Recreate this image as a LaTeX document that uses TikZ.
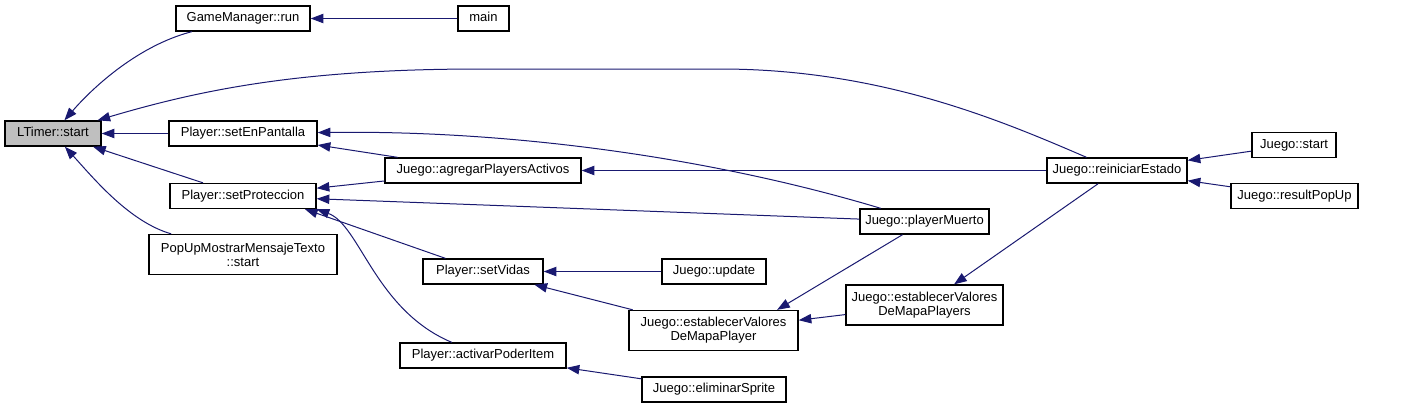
\documentclass[tikz,border=0pt]{standalone}
\usepackage{fontspec}
\setmainfont{Liberation Sans}
\usepackage{xcolor}
\usetikzlibrary{arrows.meta}
\definecolor{edgeblue}{RGB}{25,25,112}
\definecolor{rootgray}{RGB}{191,191,191}

\begin{document}
\begin{tikzpicture}[
			x=0.75pt, y=-0.75pt,
			>={Triangle[length=9.5pt,width=7pt]},
			box/.style={draw, line width=1pt, inner sep=0pt, align=center, font=\fontsize{9.75}{10.5}\selectfont},
			func/.style={box, minimum height=18.75pt, text height=7pt, text depth=2pt},
			twoline/.style={box, minimum height=30pt},
			call/.style={->, edgeblue, line width=0.75pt}
			]
			\useasboundingbox (0,0) rectangle (1405,408);
			
			\node[func, fill=rootgray, minimum width=72pt] (ltimer) at (53,133.5) {LTimer::start};
			\node[func, minimum width=100.5pt] (run) at (243,18.5) {GameManager::run};
			\node[func, minimum width=38.25pt] (main) at (483.5,18.5) {main};
			\node[func, minimum width=111pt] (enpant) at (243,133.5) {Player::setEnPantalla};
			\node[func, minimum width=109.5pt] (prot) at (243,196) {Player::setProteccion};
			\node[twoline, minimum width=141pt] (popup) at (243,254.5) {PopUpMostrarMensajeTexto\\::start};
			\node[func, minimum width=147pt] (agregar) at (483,170.5) {Juego::agregarPlayersActivos};
			\node[func, minimum width=90pt] (vidas) at (483,271.5) {Player::setVidas};
			\node[func, minimum width=124.5pt] (poder) at (483,355.5) {Player::activarPoderItem};
			\node[func, minimum width=78pt] (update) at (714,271.5) {Juego::update};
			\node[twoline, minimum width=126.75pt] (estab) at (713.5,330.5) {Juego::establecerValores\\DeMapaPlayer};
			\node[func, minimum width=108pt] (elim) at (714,389.5) {Juego::eliminarSprite};
			\node[func, minimum width=96.75pt] (muerto) at (924.5,221.5) {Juego::playerMuerto};
			\node[twoline, minimum width=117.75pt] (estabs) at (924.5,305) {Juego::establecerValores\\DeMapaPlayers};
			\node[func, minimum width=105pt] (reinic) at (1117,170.5) {Juego::reiniciarEstado};
			\node[func, minimum width=63pt] (jstart) at (1294,145) {Juego::start};
			\node[func, minimum width=95.25pt] (result) at (1294.5,196) {Juego::resultPopUp};
			
			% callers of LTimer::start
			\path[call] (main) edge (run);
			\draw[call] (run) .. controls (140,45) and (95,85) .. (ltimer);
			\draw[call] (reinic) .. controls (1000,120) and (880,69) .. (720,69) -- (480,69) .. controls (300,69) and (200,90) .. (ltimer);
			\path[call] (enpant) edge (ltimer);
			\path[call] (prot) edge (ltimer);
			\draw[call] (popup) .. controls (130,222) and (95,180) .. (ltimer);
			
			% second level
			\path[call] (agregar) edge (enpant);
			\draw[call] (muerto) .. controls (720,160) and (520,130) .. (enpant);
			\path[call] (agregar) edge (prot);
			\path[call] (muerto) edge (prot);
			\path[call] (vidas) edge (prot.-12);
			\draw[call] (poder) .. controls (375,310) and (360,225) .. (prot.south east);
			
			% Juego callers
			\path[call] (reinic) edge (agregar);
			\path[call] (update) edge (vidas);
			\path[call] (estab) edge (vidas);
			\path[call] (muerto) edge (estab.18);
			\path[call] (estabs) edge (estab);
			\path[call] (reinic) edge (estabs);
			\path[call] (elim) edge (poder);
			\path[call] (jstart) edge (reinic);
			\path[call] (result) edge (reinic);
		\end{tikzpicture}
\end{document}
